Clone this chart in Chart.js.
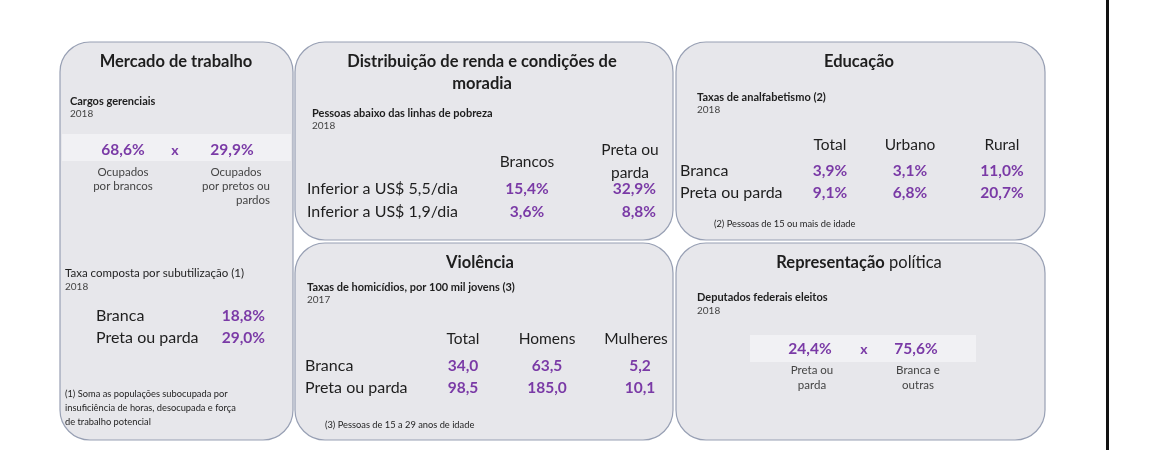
<!DOCTYPE html>
<html>
<head>
<meta charset="utf-8">
<script src="https://cdn.jsdelivr.net/npm/chart.js@4"></script>
<style>
  html, body { margin: 0; padding: 0; background: #fff; }
  #wrap { width: 1155px; height: 450px; }
</style>
</head>
<body>
<div id="wrap"><canvas id="c"></canvas></div>
<script>
// Panel values
const cargosValues = ['68,6%', '29,9%'];
const cargosLabels = [['Ocupados', 'por brancos'], ['Ocupados', 'por pretos ou', 'pardos']];
const subutilRows = ['Branca', 'Preta ou parda'];
const subutilValues = ['18,8%', '29,0%'];

const pobrezaCols = ['Brancos', 'Preta ou parda'];
const pobrezaRows = ['Inferior a US$ 5,5/dia', 'Inferior a US$ 1,9/dia'];
const pobrezaBrancos = ['15,4%', '3,6%'];
const pobrezaPretos = ['32,9%', '8,8%'];

const educCols = ['Total', 'Urbano', 'Rural'];
const educRows = ['Branca', 'Preta ou parda'];
const educValues = [['3,9%', '3,1%', '11,0%'], ['9,1%', '6,8%', '20,7%']];

const violCols = ['Total', 'Homens', 'Mulheres'];
const violRows = ['Branca', 'Preta ou parda'];
const violValues = [['34,0', '63,5', '5,2'], ['98,5', '185,0', '10,1']];

const deputadosValues = ['24,4%', '75,6%'];
const deputadosLabels = [['Preta ou', 'parda'], ['Branca e', 'outras']];

const FONT = 'Lato, "Open Sans", sans-serif';
const PURPLE = '#7a3aa6';
const DARK = '#1e1e1e';

function txt(ctx, s, x, y, size, opts = {}) {
  ctx.font = (opts.bold ? 'bold ' : '') + size + 'px ' + FONT;
  ctx.fillStyle = opts.color || DARK;
  ctx.textAlign = opts.align || 'left';
  ctx.textBaseline = 'middle';
  ctx.fillText(s, x, y);
}

function panel(ctx, x1, y1, x2, y2) {
  ctx.beginPath();
  ctx.roundRect(x1, y1, x2 - x1, y2 - y1, 30);
  ctx.fillStyle = '#e7e7eb';
  ctx.fill();
  ctx.lineWidth = 1.2;
  ctx.strokeStyle = '#98a0b4';
  ctx.stroke();
}

const infographic = {
  id: 'infographic',
  afterDraw(chart) {
    const ctx = chart.ctx;
    ctx.save();

    // Panel 1: Mercado de trabalho
    panel(ctx, 60, 42, 293, 440);
    txt(ctx, 'Mercado de trabalho', 176, 62, 16.5, { bold: true, align: 'center' });
    txt(ctx, 'Cargos gerenciais', 70, 101, 11, { bold: true });
    txt(ctx, '2018', 70, 114, 10, { color: '#444' });
    ctx.fillStyle = '#f1f1f4';
    ctx.fillRect(62, 134, 229, 27);
    txt(ctx, cargosValues[0], 123, 150, 15.5, { bold: true, color: PURPLE, align: 'center' });
    txt(ctx, 'x', 175, 150, 14, { bold: true, color: PURPLE, align: 'center' });
    txt(ctx, cargosValues[1], 232, 150, 15.5, { bold: true, color: PURPLE, align: 'center' });
    cargosLabels[0].forEach((s, i) => txt(ctx, s, 123, 172 + i * 14, 11.5, { color: '#444', align: 'center' }));
    cargosLabels[1].forEach((s, i) => txt(ctx, s, i === 2 ? 253 : 236, 172 + i * 14, 11.5, { color: '#444', align: 'center' }));
    txt(ctx, 'Taxa composta por subutilização (1)', 65, 273, 11.5);
    txt(ctx, '2018', 65, 287, 10, { color: '#444' });
    subutilRows.forEach((r, i) => {
      txt(ctx, r, 96, 316 + i * 22, 16);
      txt(ctx, subutilValues[i], 265, 316 + i * 22, 15.5, { bold: true, color: PURPLE, align: 'right' });
    });
    ['(1) Soma as populações subocupada por', 'insuficiência de horas, desocupada e força', 'de trabalho potencial']
      .forEach((s, i) => txt(ctx, s, 65, 394 + i * 14, 9.3));

    // Panel 2: Distribuição de renda
    panel(ctx, 295, 42, 673, 240);
    txt(ctx, 'Distribuição de renda e condições de', 482, 62, 16.5, { bold: true, align: 'center' });
    txt(ctx, 'moradia', 482, 84, 16.5, { bold: true, align: 'center' });
    txt(ctx, 'Pessoas abaixo das linhas de pobreza', 312, 113, 11, { bold: true });
    txt(ctx, '2018', 312, 126, 10, { color: '#444' });
    txt(ctx, pobrezaCols[0], 527, 162, 15.5, { align: 'center' });
    txt(ctx, 'Preta ou', 630, 150, 15.5, { align: 'center' });
    txt(ctx, 'parda', 630, 173, 15.5, { align: 'center' });
    pobrezaRows.forEach((r, i) => {
      const y = 189 + i * 23;
      txt(ctx, r, 307, y, 16);
      txt(ctx, pobrezaBrancos[i], 527, y, 15.5, { bold: true, color: PURPLE, align: 'center' });
      txt(ctx, pobrezaPretos[i], 656, y, 15.5, { bold: true, color: PURPLE, align: 'right' });
    });

    // Panel 3: Educação
    panel(ctx, 676, 42, 1045, 240);
    txt(ctx, 'Educação', 859, 62, 16.5, { bold: true, align: 'center' });
    txt(ctx, 'Taxas de analfabetismo (2)', 697, 97, 11, { bold: true });
    txt(ctx, '2018', 697, 110, 10, { color: '#444' });
    const ex = [830, 910, 1002];
    educCols.forEach((c, j) => txt(ctx, c, ex[j], 145, 15.5, { align: 'center' }));
    educRows.forEach((r, i) => {
      const y = 171 + i * 22;
      txt(ctx, r, 680, y, 16);
      educValues[i].forEach((v, j) => txt(ctx, v, ex[j], y, 15.5, { bold: true, color: PURPLE, align: 'center' }));
    });
    txt(ctx, '(2) Pessoas de 15 ou mais de idade', 714, 224, 9.3);

    // Panel 4: Violência
    panel(ctx, 295, 243, 673, 440);
    txt(ctx, 'Violência', 480, 263, 16.5, { bold: true, align: 'center' });
    txt(ctx, 'Taxas de homicídios, por 100 mil jovens (3)', 307, 287, 11, { bold: true });
    txt(ctx, '2017', 307, 300, 10, { color: '#444' });
    const vx = [463, 547, 636];
    violCols.forEach((c, j) => txt(ctx, c, vx[j], 339, 15.5, { align: 'center' }));
    violRows.forEach((r, i) => {
      const y = 366 + i * 22;
      txt(ctx, r, 305, y, 16);
      violValues[i].forEach((v, j) => txt(ctx, v, j === 2 ? 640 : vx[j], y, 15.5, { bold: true, color: PURPLE, align: 'center' }));
    });
    txt(ctx, '(3) Pessoas de 15 a 29 anos de idade', 325, 425, 9.3);

    // Panel 5: Representação política
    panel(ctx, 676, 243, 1045, 440);
    ctx.font = 'bold 16.5px ' + FONT;
    const w1 = ctx.measureText('Representação').width;
    ctx.font = '16.5px ' + FONT;
    const w2 = ctx.measureText(' política').width;
    const sx = 859 - (w1 + w2) / 2;
    txt(ctx, 'Representação', sx, 263, 16.5, { bold: true });
    txt(ctx, ' política', sx + w1, 263, 16.5);
    txt(ctx, 'Deputados federais eleitos', 697, 297, 11, { bold: true });
    txt(ctx, '2018', 697, 311, 10, { color: '#444' });
    ctx.fillStyle = '#f1f1f4';
    ctx.fillRect(750, 335, 226, 27);
    txt(ctx, deputadosValues[0], 810, 349, 15.5, { bold: true, color: PURPLE, align: 'center' });
    txt(ctx, 'x', 864, 349, 14, { bold: true, color: PURPLE, align: 'center' });
    txt(ctx, deputadosValues[1], 916, 349, 15.5, { bold: true, color: PURPLE, align: 'center' });
    deputadosLabels[0].forEach((s, i) => txt(ctx, s, 812, 370 + i * 15, 11.5, { color: '#444', align: 'center' }));
    deputadosLabels[1].forEach((s, i) => txt(ctx, s, 918, 370 + i * 15, 11.5, { color: '#444', align: 'center' }));

    // Right border line
    ctx.fillStyle = '#111';
    ctx.fillRect(1106, 0, 3, 450);

    ctx.restore();
  }
};

new Chart(document.getElementById('c'), {
  type: 'bar',
  data: { labels: [], datasets: [] },
  options: {
    responsive: true,
    maintainAspectRatio: false,
    animation: false,
    events: [],
    plugins: { legend: { display: false }, tooltip: { enabled: false } },
    scales: { x: { display: false }, y: { display: false } }
  },
  plugins: [infographic]
});
</script>
</body>
</html>
